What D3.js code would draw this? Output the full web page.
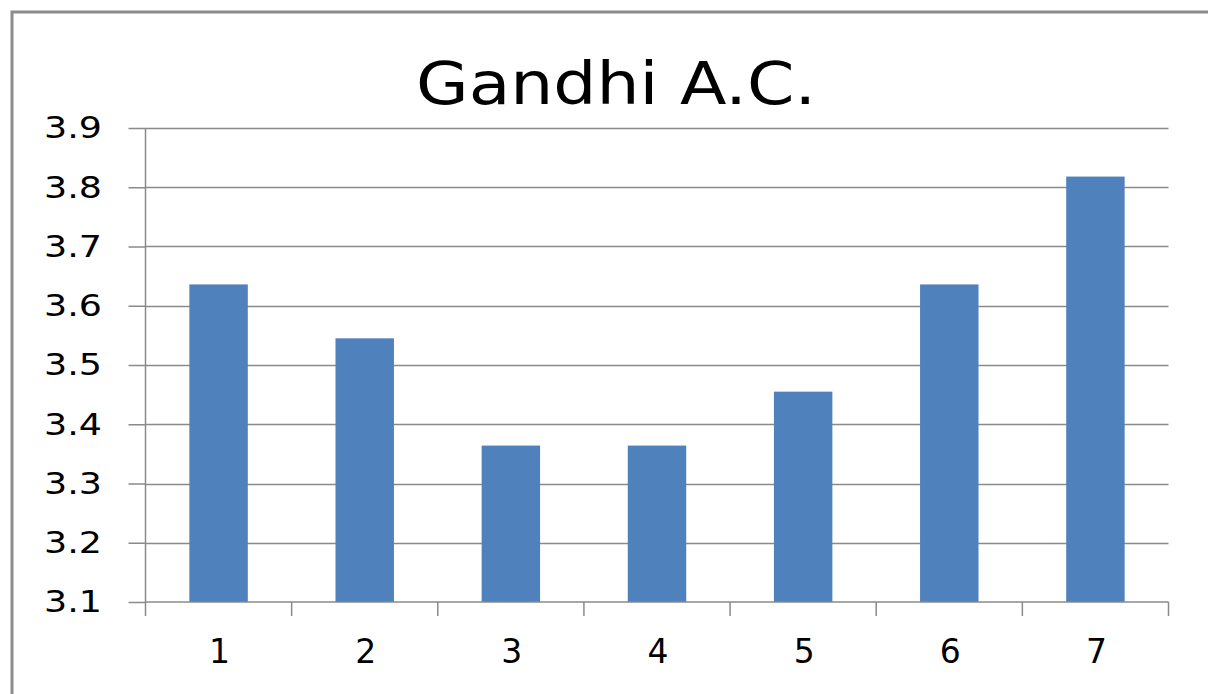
<!DOCTYPE html>
<html><head><meta charset="utf-8">
<script src="https://cdn.jsdelivr.net/npm/d3@7"></script>
<style>body{margin:0;background:#fff;overflow:hidden}</style>
</head><body>
<script>
const title = "Gandhi A.C.";
const categories = ["1","2","3","4","5","6","7"];
const values = [3.636, 3.545, 3.364, 3.364, 3.455, 3.636, 3.818];
const yTicks = [3.1, 3.2, 3.3, 3.4, 3.5, 3.6, 3.7, 3.8, 3.9];

(function () {
const W = 1208, H = 694;
const svg = d3.select("body").append("svg").attr("width", W).attr("height", H);
const font = "DejaVu Sans, sans-serif";

// outer border
svg.append("rect").attr("x", 12).attr("y", 12).attr("width", W + 20).attr("height", H + 20)
  .attr("fill", "none").attr("stroke", "#8c8c8c").attr("stroke-width", 3);

const pLeft = 145.5, pRight = 1168.5, pTop = 128, pBottom = 602;
const x = d3.scaleBand().domain(categories).range([pLeft, pRight]).paddingInner(0.6).paddingOuter(0.3);
const xb = d3.scaleBand().domain(categories).range([pLeft, pRight]);
const y = d3.scaleLinear().domain([3.1, 3.9]).range([pBottom, pTop]);

// gridlines
svg.append("g").selectAll("line").data(yTicks.slice(1)).join("line")
  .attr("x1", pLeft).attr("x2", pRight)
  .attr("y1", d => Math.round(y(d)) + 0.5).attr("y2", d => Math.round(y(d)) + 0.5)
  .attr("stroke", "#8a8a8a").attr("stroke-width", 1.5);

// bars
svg.append("g").selectAll("rect").data(values).join("rect")
  .attr("x", (d, i) => x(categories[i]))
  .attr("width", x.bandwidth())
  .attr("y", d => y(d))
  .attr("height", d => y(3.1) - y(d))
  .attr("fill", "#4F81BD");

// y axis
const yAxis = svg.append("g").attr("transform", `translate(${pLeft},0)`)
  .call(d3.axisLeft(y).tickValues(yTicks).tickFormat(d3.format(".1f")).tickSize(17).tickPadding(14));
yAxis.select(".domain").attr("stroke", "#8a8a8a").attr("stroke-width", 1.5).attr("d", `M0,${pTop}V${pBottom}`);
yAxis.selectAll(".tick line").attr("stroke", "#8a8a8a").attr("stroke-width", 1.5);
yAxis.selectAll(".tick text").attr("font-family", font).attr("font-size", 31).attr("fill", "#000")
  .attr("x", -43.5).attr("textLength", 58).attr("lengthAdjust", "spacingAndGlyphs");

// x axis
const xAxis = svg.append("g").attr("transform", `translate(0,${pBottom})`)
  .call(d3.axisBottom(xb).tickSize(0).tickPadding(0));
xAxis.select(".domain").attr("stroke", "#8a8a8a").attr("stroke-width", 1.5).attr("d", `M${pLeft},0H${pRight}`);
xAxis.selectAll(".tick text").attr("font-family", font).attr("font-size", 33).attr("fill", "#000")
  .attr("y", 38).attr("dy", "0.71em").attr("dx", 1);
// x tick marks at band boundaries
svg.append("g").selectAll("line").data(categories.map(c => xb(c)).concat([pRight])).join("line")
  .attr("x1", d => d).attr("x2", d => d).attr("y1", pBottom).attr("y2", pBottom + 14)
  .attr("stroke", "#8a8a8a").attr("stroke-width", 1.5);

// title
svg.append("text").attr("x", 616).attr("y", 104).attr("text-anchor", "middle")
  .attr("font-family", font).attr("font-size", 58)
  .attr("textLength", 400).attr("lengthAdjust", "spacingAndGlyphs")
  .text(title);
})();
</script>
</body></html>
